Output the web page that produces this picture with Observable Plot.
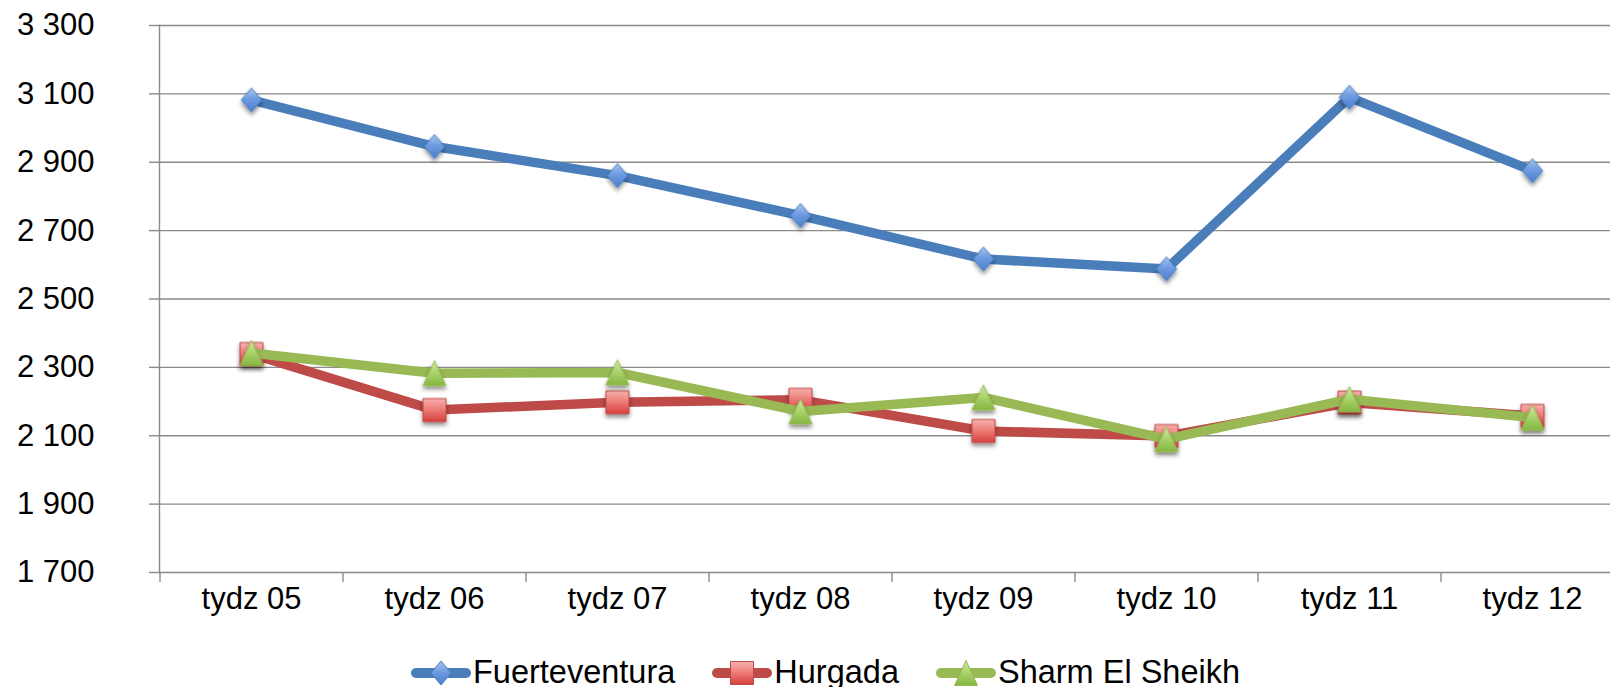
<!DOCTYPE html>
<html>
<head>
<meta charset="utf-8">
<script src="https://cdn.jsdelivr.net/npm/d3@7"></script>
<script src="https://cdn.jsdelivr.net/npm/@observablehq/plot@0.6"></script>
<style>
  html, body { margin: 0; padding: 0; background: #fff; overflow: hidden; }
  body { width: 1610px; height: 687px; font-family: "Liberation Sans", Arial, sans-serif; }
  #legend { display: flex; justify-content: center; align-items: center; height: 59px; gap: 36px; font-size: 32.5px; color: #000; position: relative; left: 20px; top: 15px; }
  .item { display: flex; align-items: center; gap: 1px; }
  .item svg { display: block; }
</style>
</head>
<body>
<div id="chart"></div>
<div id="legend"></div>
<script>
const weeks = ["tydz 05", "tydz 06", "tydz 07", "tydz 08", "tydz 09", "tydz 10", "tydz 11", "tydz 12"];
const fuerteventura = [3082, 2946, 2861, 2744, 2617, 2588, 3090, 2875];
const hurgada = [2339, 2175, 2198, 2205, 2114, 2099, 2197, 2158];
const sharm = [2342, 2283, 2285, 2171, 2212, 2090, 2207, 2153];
const seriesNames = ["Fuerteventura", "Hurgada", "Sharm El Sheikh"];
const yTicks = [1700, 1900, 2100, 2300, 2500, 2700, 2900, 3100, 3300];

const lineColors = ["#4A7EBB", "#BE4B48", "#98B954"];
const gradIds = ["gBlue", "gRed", "gGreen"];

const diamondSym = {draw(c, size) { const r = Math.sqrt(size / Math.PI); c.moveTo(0, -r); c.lineTo(r * 0.85, 0); c.lineTo(0, r); c.lineTo(-r * 0.85, 0); c.closePath(); }};
const squareSym = {draw(c, size) { const r = Math.sqrt(size / Math.PI); c.rect(-r, -r, 2 * r, 2 * r); }};
const triangleSym = {draw(c, size) { const r = Math.sqrt(size / Math.PI); c.moveTo(0, -r); c.lineTo(r * 0.92, r); c.lineTo(-r * 0.92, r); c.closePath(); }};
const symbols = [diamondSym, squareSym, triangleSym];
const radii = [12, 11.5, 12.5];

const seriesValues = [fuerteventura, hurgada, sharm];
const data = seriesValues.map((vals, s) => weeks.map((w, i) => ({week: w, value: vals[i], series: seriesNames[s]})));

const locale = d3.formatLocale({decimal: ",", thousands: "\u00a0", grouping: [3], currency: ["", ""]});
const fmt = locale.format(",d");

const grid = "#8a8a8a";
const marks = [
  Plot.gridY(yTicks, {stroke: grid, strokeOpacity: 1, strokeWidth: 1.4}),
  Plot.axisY(yTicks, {tickSize: 10, tickPadding: 55, tickFormat: fmt, fontSize: 31, stroke: grid, strokeWidth: 1.4, label: null}),
  Plot.axisX(weeks, {tickSize: 10, tickFormat: () => "", stroke: grid, strokeWidth: 1.4, dx: -91.5, label: null}),
  Plot.axisX(weeks, {tickSize: 0, tickPadding: 14, fontSize: 31, label: null}),
  Plot.frame({anchor: "left", stroke: grid, strokeWidth: 1.4})
];
data.forEach((d, s) => {
  marks.push(Plot.line(d, {x: "week", y: "value", stroke: lineColors[s], strokeWidth: 9.5, strokeLinejoin: "round", strokeLinecap: "round"}));
  marks.push(Plot.dot(d, {x: "week", y: "value", symbol: symbols[s], r: radii[s], fill: `url(#${gradIds[s]})`, stroke: lineColors[s], strokeWidth: 1}));
});

const chart = Plot.plot({
  width: 1610,
  height: 628,
  marginLeft: 159,
  marginRight: 0,
  marginTop: 25,
  marginBottom: 56,
  style: {fontFamily: "'Liberation Sans', Arial, sans-serif", color: "#000", background: "#fff", overflow: "hidden"},
  x: {type: "point", domain: weeks, range: [159, 1623], padding: 0.5, axis: null},
  y: {domain: [1700, 3300], axis: null},
  symbol: {type: "identity"},
  marks
});

const defs = `
<defs>
  <linearGradient id="gBlue" x1="0" y1="0" x2="0" y2="1">
    <stop offset="0" stop-color="#a9c6ef"/><stop offset="0.45" stop-color="#6f9be0"/><stop offset="1" stop-color="#4a7fcf"/>
  </linearGradient>
  <linearGradient id="gRed" x1="0" y1="0" x2="0" y2="1">
    <stop offset="0" stop-color="#f7b1ae"/><stop offset="0.45" stop-color="#ee7f7b"/><stop offset="1" stop-color="#d6403d"/>
  </linearGradient>
  <linearGradient id="gGreen" x1="0" y1="0" x2="0" y2="1">
    <stop offset="0" stop-color="#d2eaa4"/><stop offset="0.5" stop-color="#a9d26b"/><stop offset="1" stop-color="#84b73f"/>
  </linearGradient>
  <filter id="shadow" x="-50%" y="-50%" width="200%" height="200%">
    <feDropShadow dx="0" dy="3" stdDeviation="2" flood-color="#000" flood-opacity="0.45"/>
  </filter>
</defs>`;
chart.insertAdjacentHTML("afterbegin", defs);
chart.querySelectorAll('g[aria-label="dot"]').forEach(g => g.setAttribute("filter", "url(#shadow)"));
document.getElementById("chart").appendChild(chart);

// Legend
const legend = document.getElementById("legend");
const symPath = (sym, r) => { const p = d3.path(); sym.draw(p, r * r * Math.PI); return p.toString(); };
seriesNames.forEach((name, s) => {
  const item = document.createElement("div");
  item.className = "item";
  item.innerHTML = `<svg width="62" height="32" viewBox="0 0 62 32">
    ${defs}
    <line x1="6" y1="16" x2="56" y2="16" stroke="${lineColors[s]}" stroke-width="10" stroke-linecap="round"/>
    <path transform="translate(31,16)" d="${symPath(symbols[s], radii[s])}" fill="url(#${gradIds[s]}L)" stroke="${lineColors[s]}" stroke-width="1"/>
  </svg><span>${name}</span>`;
  item.querySelectorAll("linearGradient").forEach(g => g.id = g.id + "L");
  item.querySelectorAll("filter").forEach(f => f.remove());
  legend.appendChild(item);
});
</script>
</body>
</html>
